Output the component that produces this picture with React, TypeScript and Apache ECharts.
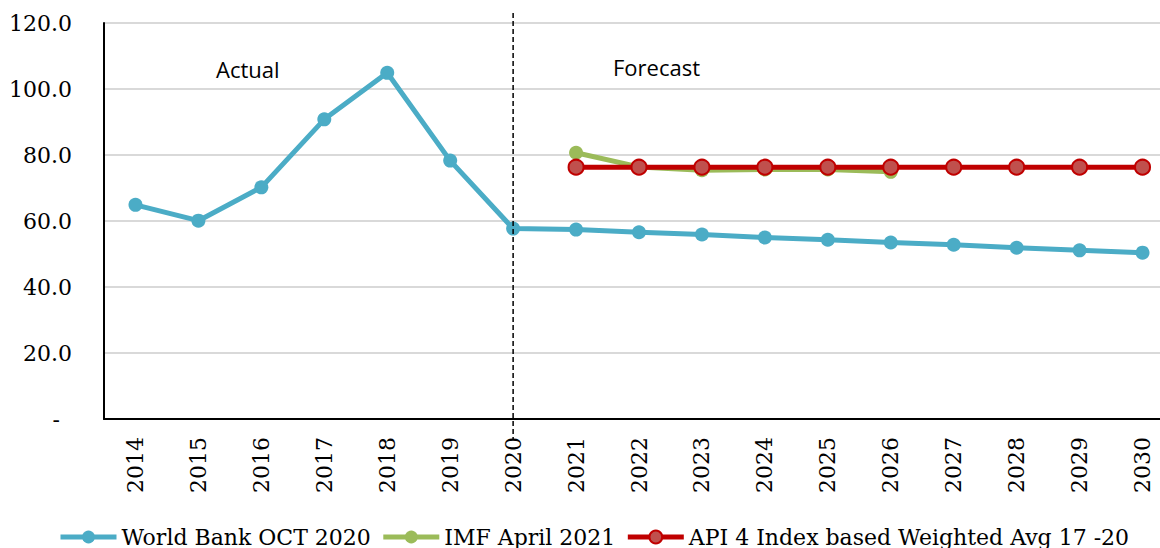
import React, { useEffect, useRef } from "react";
import * as echarts from "echarts";

const years = ["2014","2015","2016","2017","2018","2019","2020","2021","2022","2023","2024","2025","2026","2027","2028","2029","2030"];
const worldBank = [64.9, 60.1, 70.2, 90.8, 104.9, 78.3, 57.7, 57.4, 56.6, 55.9, 55.0, 54.3, 53.5, 52.8, 51.9, 51.1, 50.4];
const imf = [null, null, null, null, null, null, null, 80.7, 76.4, 75.4, 75.6, 75.6, 74.9, null, null, null, null];
const api = [null, null, null, null, null, null, null, 76.3, 76.3, 76.3, 76.3, 76.3, 76.3, 76.3, 76.3, 76.3, 76.3];
const seriesNames = ["World Bank OCT 2020", "IMF April 2021", "API 4 Index based Weighted Avg 17 -20"];
const dividerYear = "2020";

const serif = "DejaVu Serif";
const sans = "Open Sans";

export default function App() {
  const ref = useRef<HTMLDivElement>(null);
  useEffect(() => {
    const chart = echarts.init(ref.current!, null, { renderer: "svg" });
    chart.setOption({
      animation: false,
      backgroundColor: "#ffffff",
      grid: { left: 104, top: 23, bottom: 129, width: 1070 },
      legend: {
        left: 53,
        top: 521,
        itemWidth: 56,
        itemHeight: 16,
        itemGap: 10,
        textStyle: { fontFamily: serif, fontSize: 22, color: "#000" },
        data: [
          { name: seriesNames[0], lineStyle: { width: 5 } },
          { name: seriesNames[1], lineStyle: { width: 5 } },
          { name: seriesNames[2], lineStyle: { width: 5 } },
        ],
      },
      xAxis: {
        type: "category",
        data: years,
        boundaryGap: true,
        axisLine: { lineStyle: { color: "#000", width: 2 } },
        axisTick: { show: false },
        axisLabel: { rotate: 90, margin: 18, fontFamily: serif, fontSize: 22, color: "#000", interval: 0 },
      },
      yAxis: {
        type: "value",
        min: 0,
        max: 120,
        interval: 20,
        axisLine: { show: true, lineStyle: { color: "#000", width: 2 } },
        axisTick: { show: false },
        splitLine: { lineStyle: { color: "#d9d9d9", width: 2 } },
        axisLabel: {
          margin: 32,
          fontFamily: serif,
          fontSize: 22,
          color: "#000",
          formatter: (v: number) => (v === 0 ? "{d|-}" : v.toFixed(1)),
          rich: { d: { fontFamily: serif, fontSize: 22, color: "#000", padding: [0, 12, 0, 0] } },
        },
      },
      series: [
        {
          name: seriesNames[0],
          type: "line",
          data: worldBank,
          symbol: "circle",
          symbolSize: 14,
          lineStyle: { color: "#4bacc6", width: 5 },
          itemStyle: { color: "#4bacc6" },
          z: 2,
        },
        {
          name: seriesNames[1],
          type: "line",
          data: imf,
          symbol: "circle",
          symbolSize: 14,
          lineStyle: { color: "#9bbb59", width: 5 },
          itemStyle: { color: "#9bbb59" },
          z: 3,
        },
        {
          name: seriesNames[2],
          type: "line",
          data: api,
          symbol: "circle",
          symbolSize: 15,
          lineStyle: { color: "#c00000", width: 5 },
          itemStyle: { color: "#c0504d", borderColor: "#c00000", borderWidth: 2 },
          z: 4,
        },
      ],
    });
    const x = chart.convertToPixel({ xAxisIndex: 0 }, dividerYear) as number;
    chart.setOption({
      graphic: [
        {
          type: "line",
          shape: { x1: x, y1: 13, x2: x, y2: 440 },
          style: { stroke: "#000", lineWidth: 1.5, lineDash: [5, 3] },
          z: 10,
        },
        {
          type: "text",
          left: 216,
          top: 58,
          style: { text: "Actual", fontFamily: sans, fontSize: 22, fill: "#000" },
        },
        {
          type: "text",
          left: 613,
          top: 56,
          style: { text: "Forecast", fontFamily: sans, fontSize: 22, fill: "#000" },
        },
      ],
    });
    return () => chart.dispose();
  }, []);
  return (
    <div style={{ position: "absolute", left: 0, top: 0, width: 1160, height: 548, overflow: "hidden", background: "#fff" }}>
      <div ref={ref} style={{ width: 1180, height: 548 }} />
    </div>
  );
}
